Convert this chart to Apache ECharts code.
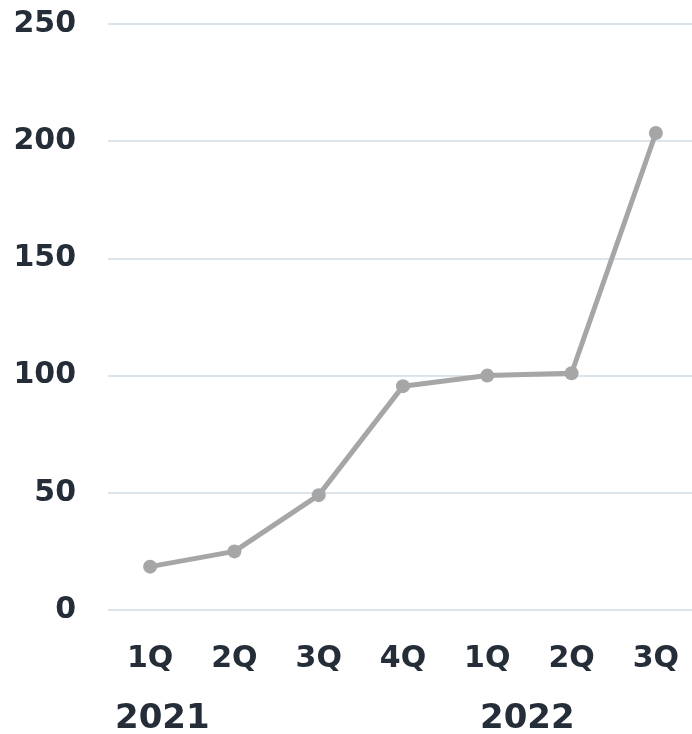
<!DOCTYPE html>
<html>
<head>
<meta charset="utf-8">
<script src="https://cdn.jsdelivr.net/npm/echarts@6/dist/echarts.min.js"></script>
<style>
  html, body { margin: 0; padding: 0; background: #fff; }
  #chart { width: 692px; height: 734px; }
</style>
</head>
<body>
<div id="chart"></div>
<script>
var quarters = ['1Q', '2Q', '3Q', '4Q', '1Q', '2Q', '3Q']
var values = [18.5, 25, 49, 95.5, 100, 101, 203.5]
var years = ['2021', '2022']

var chart = echarts.init(document.getElementById('chart'))
var textColor = '#252e38'
var font = 'DejaVu Sans'

var option = {
  animation: false,
  grid: {
    top: 24,
    left: 108,
    width: 590,
    bottom: 124,
    outerBoundsMode: 'none'
  },
  xAxis: {
    type: 'category',
    data: quarters,
    axisLine: { show: false },
    axisTick: { show: false },
    axisLabel: {
      color: textColor,
      fontFamily: font,
      fontWeight: 'bold',
      fontSize: 30,
      margin: 34
    }
  },
  yAxis: {
    type: 'value',
    min: 0,
    max: 250,
    interval: 50,
    axisLabel: {
      color: textColor,
      fontFamily: font,
      fontWeight: 'bold',
      fontSize: 30,
      margin: 32,
      padding: [6, 0, 0, 0]
    },
    splitLine: {
      lineStyle: { color: '#dce5ec', width: 2 }
    }
  },
  // year labels under the quarters
  graphic: [
    {
      type: 'text',
      left: 115,
      top: 702,
      style: {
        text: years[0],
        fill: textColor,
        font: 'bold 34px "DejaVu Sans"'
      }
    },
    {
      type: 'text',
      left: 480,
      top: 702,
      style: {
        text: years[1],
        fill: textColor,
        font: 'bold 34px "DejaVu Sans"'
      }
    }
  ],
  series: [
    {
      type: 'line',
      data: values,
      symbol: 'circle',
      symbolSize: 14,
      itemStyle: { color: '#a6a6a6' },
      lineStyle: { color: '#a6a6a6', width: 5 }
    }
  ]
}

chart.setOption(option)
</script>
</body>
</html>
